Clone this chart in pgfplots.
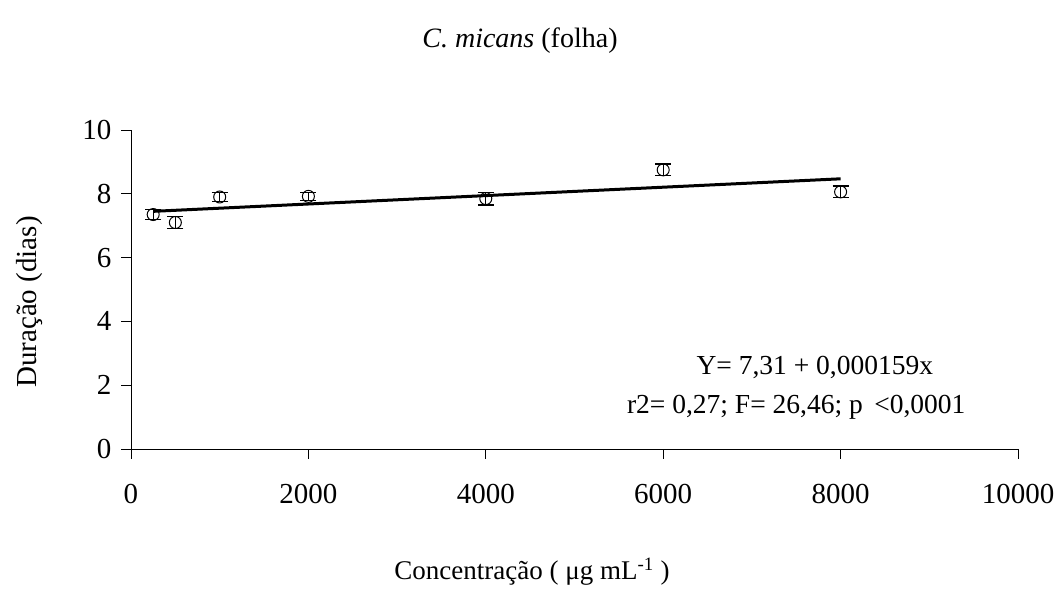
\documentclass[border=0pt]{standalone}
\usepackage{pgfplots}
\pgfplotsset{compat=1.18}
\usepackage{fontspec}
\setmainfont{Liberation Serif}

\begin{document}
\begin{tikzpicture}
% fixed page size: 1 px of the reference = 1 pt
\path[use as bounding box] (-131pt,-145pt) rectangle (929pt,449pt);
\begin{axis}[
  at={(0,0)}, anchor=south west,
  scale only axis,
  width=887pt, height=319pt,
  xmin=0, xmax=10000, ymin=0, ymax=10,
  axis x line=bottom, axis y line=left,
  axis line style={-, line width=0.9pt},
  xtick={0,2000,...,10000}, ytick={0,2,...,10},
  tick align=outside, major tick length=10pt,
  tick style={line width=0.9pt, black},
  scaled x ticks=false,
  /pgf/number format/assume math mode=true,
  /pgf/number format/1000 sep={},
  ticklabel style={font=\fontsize{29}{33}\selectfont},
  xticklabel style={yshift=-22pt},
  yticklabel style={xshift=-6pt},
  clip=false,
]
% regression line
\addplot[black, line width=3pt] coordinates {(250,7.45) (8000,8.47)};
% means with error bars
\addplot[black, only marks, mark=o, mark size=6pt, mark options={line width=1pt, fill=white},
  error bars/.cd, y dir=both, y explicit,
  error mark options={rotate=90, mark size=8pt, line width=1.3pt},
  error bar style={line width=1pt}]
  coordinates {
  (250,7.35) +- (0,0.15)
  (500,7.10) +- (0,0.18)
  (1000,7.90) +- (0,0.15)
  (2000,7.92) +- (0,0.12)
  (4000,7.85) +- (0,0.20)
  (6000,8.75) +- (0,0.18)
  (8000,8.06) +- (0,0.18)
  };
\node[font=\fontsize{27.5}{31}\selectfont] at (axis cs:7710,2.57) {Y= 7,31 + 0,000159x};
\node[font=\fontsize{27.5}{31}\selectfont] at (axis cs:7500,1.32) {r2= 0,27; F= 26,46; p \,<0,0001};
\end{axis}
\node[font=\fontsize{28}{32}\selectfont] at (389pt,408pt) {\textit{C. micans} (folha)};
\node[font=\fontsize{27}{31}\selectfont] at (401pt,-123pt) {Concentração ( μg mL\textsuperscript{-1} )};
\node[font=\fontsize{29}{33}\selectfont, rotate=90] at (-101pt,147pt) {Duração (dias)};
\end{tikzpicture}
\end{document}
